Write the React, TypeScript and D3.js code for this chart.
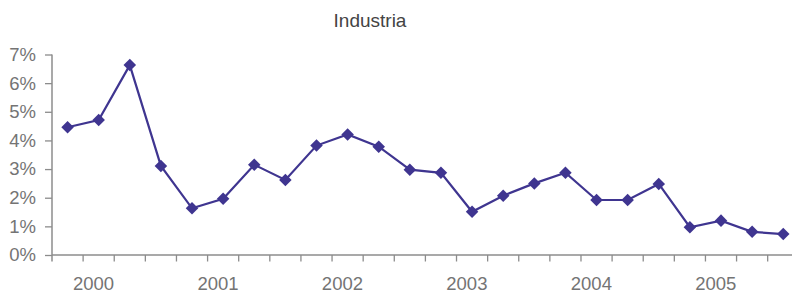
import React, { useEffect, useRef } from "react";
import * as d3 from "d3";

const years = ["2000", "2001", "2002", "2003", "2004", "2005"];
const quarters = ["Q1", "Q2", "Q3", "Q4"];
const industria = [
  4.46, 4.71, 6.63, 3.11,
  1.63, 1.96, 3.15, 2.62,
  3.82, 4.21, 3.78, 2.98,
  2.87, 1.51, 2.07, 2.50,
  2.87, 1.92, 1.92, 2.48,
  0.97, 1.20, 0.81, 0.73,
];
const yTicks = [0, 1, 2, 3, 4, 5, 6, 7];

const App = () => {
  const svgRef = useRef<SVGSVGElement>(null);

  useEffect(() => {
    const width = 792;
    const height = 295;
    const margin = { top: 54.5, bottom: 40, left: 52, right: -6.8 };

    const data = industria.map((v, i) => ({
      key: `${years[Math.floor(i / 4)]}-${quarters[i % 4]}`,
      value: v,
    }));

    const svg = d3.select(svgRef.current)
      .attr("width", width)
      .attr("height", height)
      .attr("viewBox", [0, 0, width, height]);
    svg.selectAll("*").remove();

    const xScale = d3.scaleBand()
      .domain(data.map(d => d.key))
      .range([margin.left, width - margin.right])
      .padding(0);

    const yScale = d3.scaleLinear()
      .domain([0, 7])
      .range([height - margin.bottom, margin.top]);

    const axisColor = "#8c8c8c";
    const textColor = "#747474";
    const font = "'Liberation Sans', Arial, sans-serif";
    const bw = xScale.bandwidth();
    const y0 = yScale(0);

    // title
    svg.append("text")
      .attr("x", 370)
      .attr("y", 27)
      .attr("text-anchor", "middle")
      .attr("font-family", font)
      .attr("font-size", "19px")
      .attr("fill", "#444")
      .text("Industria");

    // y axis
    const yAxis = d3.axisLeft(yScale)
      .tickValues(yTicks)
      .tickSize(7)
      .tickPadding(9)
      .tickFormat(d => `${d}%`);

    const gy = svg.append("g")
      .attr("transform", `translate(${margin.left},0)`)
      .call(yAxis);
    gy.select(".domain").remove();
    gy.selectAll("line").attr("stroke", axisColor).attr("stroke-width", 1.3);
    gy.selectAll("text")
      .attr("font-family", font)
      .attr("font-size", "18.5px")
      .attr("fill", textColor);
    gy.append("line")
      .attr("x1", 0).attr("x2", 0)
      .attr("y1", yScale(7)).attr("y2", y0 + 6.5)
      .attr("stroke", axisColor)
      .attr("stroke-width", 1.5);

    // x axis: line + ticks at category boundaries
    const gx = svg.append("g");
    gx.append("line")
      .attr("x1", margin.left).attr("x2", width)
      .attr("y1", y0).attr("y2", y0)
      .attr("stroke", axisColor)
      .attr("stroke-width", 1.5);
    gx.selectAll("line.tick")
      .data(data.slice(1))
      .enter()
      .append("line")
      .attr("class", "tick")
      .attr("x1", d => xScale(d.key)!)
      .attr("x2", d => xScale(d.key)!)
      .attr("y1", y0)
      .attr("y2", y0 + 6.5)
      .attr("stroke", axisColor)
      .attr("stroke-width", 1.3);

    gx.selectAll("text")
      .data(years)
      .enter()
      .append("text")
      .attr("x", y => xScale(`${y}-Q1`)! + bw * 4 / 3)
      .attr("y", 290)
      .attr("text-anchor", "middle")
      .attr("font-family", font)
      .attr("font-size", "18.5px")
      .attr("fill", textColor)
      .text(y => y);

    // line
    const lineColor = "#3f3590";
    const line = d3.line<{ key: string; value: number }>()
      .x(d => xScale(d.key)! + bw / 2)
      .y(d => yScale(d.value));

    svg.append("path")
      .datum(data)
      .attr("fill", "none")
      .attr("stroke", lineColor)
      .attr("stroke-width", 2.2)
      .attr("d", line);

    // diamond markers
    const diamond = d3.symbol().type(d3.symbolDiamond2).size(100);
    svg.append("g")
      .selectAll("path")
      .data(data)
      .enter()
      .append("path")
      .attr("d", diamond)
      .attr("transform", d => `translate(${xScale(d.key)! + bw / 2},${yScale(d.value)})`)
      .attr("fill", lineColor);
  }, []);

  return (
    <svg ref={svgRef} style={{ position: "absolute", left: 0, top: 0, display: "block" }}></svg>
  );
};

export default App;
